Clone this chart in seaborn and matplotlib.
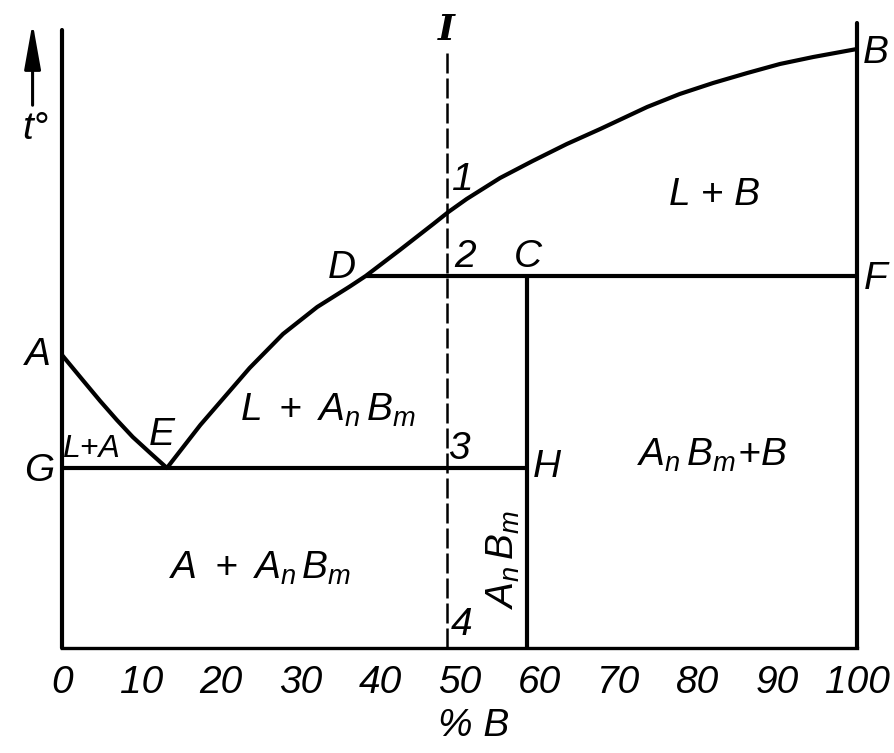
import matplotlib
matplotlib.use('Agg')
import matplotlib.pyplot as plt
import seaborn as sns
from matplotlib import font_manager

# liquidus A-E (left branch)
left_x = [0, 2.6, 4.8, 6.9, 8.9, 11.1, 13.2]
left_t = [293, 268, 247, 228, 211, 195, 180]

# liquidus E-D-B (right branch)
right_x = [13.2, 17.4, 23.6, 27.8, 32.1, 36.2, 38.2, 42.5, 46.7, 48.6, 50.9, 55.1,
           59.2, 63.5, 67.7, 73.6, 77.7, 81.9, 86.2, 90.3, 94.5, 100]
right_t = [180, 223, 280, 314, 341, 361.5, 372, 398, 424, 436, 449, 470,
           487, 504, 519, 541, 554, 565, 575, 584, 591, 599]

# key points
x_E, t_E = 13.2, 180
x_D, t_D = 38.2, 372
x_C = 58.5
x_I = 48.4
t_top_left, t_top_right, t_top_I = 618, 625, 596

tick_vals = list(range(0, 101, 10))

sns.set_style('white')
names = {f.name for f in font_manager.fontManager.ttflist}
FONT = 'Liberation Sans' if 'Liberation Sans' in names else 'DejaVu Sans'
plt.rcParams['font.family'] = [FONT, 'DejaVu Sans']
plt.rcParams['text.color'] = 'black'
plt.rcParams['xtick.color'] = 'black'
plt.rcParams['mathtext.fontset'] = 'custom'
plt.rcParams['mathtext.it'] = FONT + ':italic'
plt.rcParams['mathtext.rm'] = FONT + ':italic'

fig = plt.figure(figsize=(8.94, 7.53), dpi=100)
ax = fig.add_axes([62 / 894, 105 / 753, 795 / 894, 648 / 753])
ax.set_xlim(0, 100)
ax.set_ylim(0, 648)

lw = 3.0
sns.lineplot(x=left_x, y=left_t, sort=False, estimator=None, color='black', lw=lw, ax=ax)
sns.lineplot(x=right_x, y=right_t, sort=False, estimator=None, color='black', lw=lw, ax=ax)

# horizontals
ax.plot([0, x_C], [t_E, t_E], color='black', lw=lw, solid_capstyle='butt')
ax.plot([x_D, 100], [t_D, t_D], color='black', lw=lw, solid_capstyle='butt')
# verticals
ax.plot([x_C, x_C], [0, t_D], color='black', lw=lw, solid_capstyle='butt')
ax.plot([0, 0], [0, t_top_left], color='black', lw=lw, clip_on=False)
ax.plot([100, 100], [0, t_top_right], color='black', lw=lw, clip_on=False)
ax.plot([x_I, x_I], [0, t_top_I], color='black', lw=1.8, dashes=(8, 2))

# axis arrow
ax.annotate('', xy=(-3.7, 628), xytext=(-3.7, 540), annotation_clip=False,
            arrowprops=dict(arrowstyle='-|>,head_length=1.4,head_width=0.25',
                            mutation_scale=20, color='black', lw=2.2))

for s in ['left', 'right', 'top']:
    ax.spines[s].set_visible(False)
ax.spines['bottom'].set_linewidth(2.4)
ax.spines['bottom'].set_color('black')
ax.set_yticks([])
ax.set_xticks(tick_vals)
ax.set_xticklabels([str(v) for v in tick_vals], fontstyle='italic', fontsize=28)
ax.tick_params(axis='x', direction='out', length=7, width=1.6, pad=5, color='black')
ticks = ax.xaxis.get_major_ticks()
ticks[0].tick1line.set_visible(False)
ticks[-1].tick1line.set_visible(False)

fs = 28
kw = dict(ha='center', va='center', fontstyle='italic', clip_on=False)
ax.text(-3.3, 519, 't°', fontsize=fs, **kw)
ax.text(x_I, 618, 'I', fontsize=26, family=['DejaVu Serif'], ha='center', va='center',
        fontstyle='italic', fontweight='bold')
ax.text(102.4, 595, 'B', fontsize=fs, **kw)
ax.text(50.4, 468, '1', fontsize=fs, **kw)
ax.text(82.1, 453, 'L + B', fontsize=fs, **kw)
ax.text(35.2, 380, 'D', fontsize=fs, **kw)
ax.text(50.7, 391, '2', fontsize=fs, **kw)
ax.text(58.6, 391, 'C', fontsize=fs, **kw)
ax.text(102.3, 369, 'F', fontsize=fs, **kw)
ax.text(-3.0, 293, 'A', fontsize=fs, **kw)
ax.text(33.5, 238, r'$L\ +\ A_n\,B_m$', fontsize=fs, **kw)
ax.text(3.6, 199, 'L+A', fontsize=23, **kw)
ax.text(12.5, 213, 'E', fontsize=fs, **kw)
ax.text(-2.9, 177, 'G', fontsize=fs, **kw)
ax.text(49.9, 199, '3', fontsize=fs, **kw)
ax.text(61.0, 181, 'H', fontsize=fs, **kw)
ax.text(81.8, 193, r'$A_n\,B_m\!+\!B$', fontsize=fs, **kw)
ax.text(24.9, 80, r'$A\ +\ A_n\,B_m$', fontsize=fs, **kw)
ax.text(55.5, 88, r'$A_n\,B_m$', fontsize=fs, rotation=90, **kw)
ax.text(50.3, 23, '4', fontsize=fs, **kw)
ax.text(51.8, -78, '% B', fontsize=fs, **kw)

fig.savefig('out.png', dpi=100)
